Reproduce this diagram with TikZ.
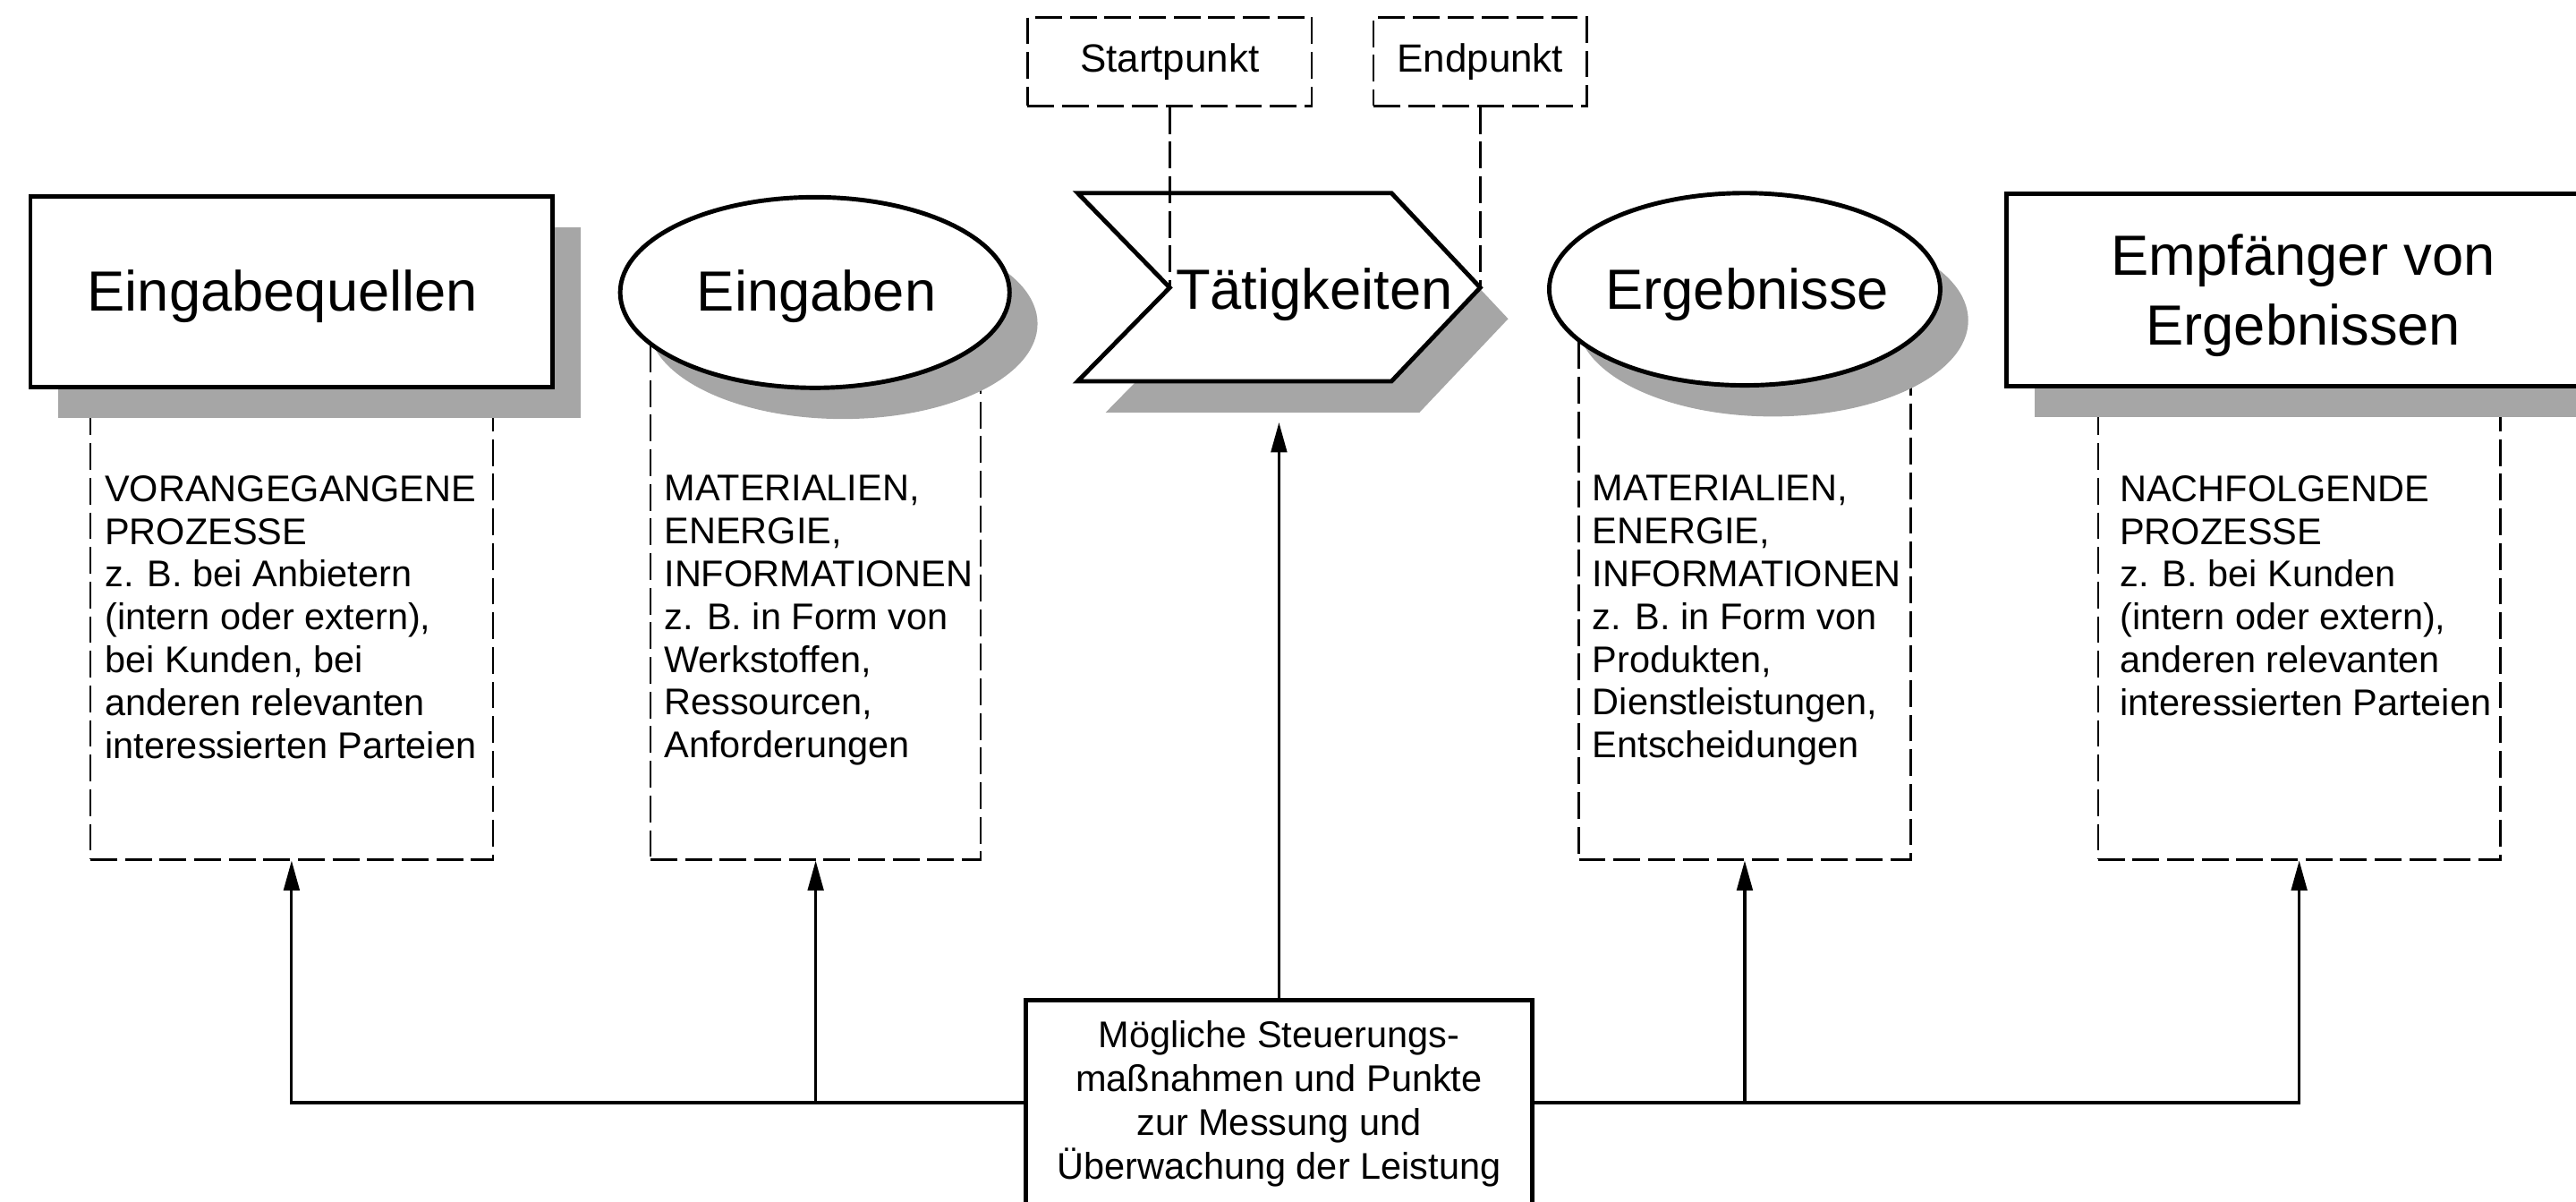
\documentclass[tikz,border=0pt]{standalone}
\usepackage{fontspec}
\setmainfont{Liberation Sans}
\usetikzlibrary{arrows.meta,shapes.geometric,shadows}
\newlength{\mpx}\setlength{\mpx}{0.018361cm}
\definecolor{shadowgray}{RGB}{166,166,166}
\begin{document}
\begin{tikzpicture}[x=0.018361cm,y=-0.018361cm,
  thickline/.style={line width=1.4pt},
  shapebox/.style={draw, thickline, fill=white, rectangle, inner sep=0pt},
  shapeell/.style={draw, thickline, fill=white, ellipse, inner sep=0pt},
  shadowed/.style={drop shadow={shadow xshift=8.9pt, shadow yshift=-9.9pt, opacity=1, fill=shadowgray}},
  dbox/.style={draw, line width=0.7pt, dash pattern=on 8.5pt off 2.5pt, rectangle, inner sep=0pt},
  titletxt/.style={font=\fontsize{18}{22}\selectfont, inner sep=0pt, align=center},
  bodytxt/.style={font=\fontsize{11.8}{13.6}\selectfont, inner sep=0pt, align=left, anchor=north west},
  conn/.style={line width=0.9pt, -{Triangle[length=9.5pt,width=5pt]}},
  dconn/.style={line width=0.7pt, dash pattern=on 8.5pt off 2.5pt}
]
\useasboundingbox (0,0) rectangle (1568,731);
\clip (0,0) rectangle (1568,731);

% dashed detail boxes (tops hidden behind the shapes)
\node[dbox, minimum width=245*\mpx, minimum height=345*\mpx] (b1) at (177.5,350.5) {};
\node[dbox, minimum width=201*\mpx, minimum height=345*\mpx] (b2) at (496.5,350.5) {};
\node[dbox, minimum width=202*\mpx, minimum height=345*\mpx] (b3) at (1062,350.5) {};
\node[dbox, minimum width=245*\mpx, minimum height=345*\mpx] (b4) at (1399.5,350.5) {};

\node[bodytxt] (b1T) at (63.5,289) {VORANGEGANGENE\\PROZESSE\\z. B. bei Anbietern\\(intern oder extern),\\bei Kunden, bei\\anderen relevanten\\interessierten Parteien};
\node[bodytxt] (b2T) at (404,289) {MATERIALIEN,\\ENERGIE,\\INFORMATIONEN\\z. B. in Form von\\Werkstoffen,\\Ressourcen,\\Anforderungen};
\node[bodytxt] (b3T) at (969,289) {MATERIALIEN,\\ENERGIE,\\INFORMATIONEN\\z. B. in Form von\\Produkten,\\Dienstleistungen,\\Entscheidungen};
\node[bodytxt] (b4T) at (1290,289) {NACHFOLGENDE\\PROZESSE\\z. B. bei Kunden\\(intern oder extern),\\anderen relevanten\\interessierten Parteien};

% main shapes
\node[shapebox, shadowed, minimum width=318*\mpx, minimum height=116*\mpx] (quellen) at (177.5,177.5) {};
\node[shapeell, shadowed, minimum width=237*\mpx, minimum height=116*\mpx] (eingaben) at (496,178) {};
\node[shapeell, shadowed, minimum width=238*\mpx, minimum height=117*\mpx] (ergebnisse) at (1062,176) {};
\node[shapebox, shadowed, minimum width=362*\mpx, minimum height=117*\mpx] (empf) at (1402.5,176.5) {};

% chevron (Taetigkeiten)
\fill[shadowgray, shift={(17,19)}] (656,117.5) -- (847,117.5) -- (901,175) -- (847,232) -- (656,232) -- (712,175) -- cycle;
\draw[thickline, fill=white] (656,117.5) -- (847,117.5) -- (901,175) -- (847,232) -- (656,232) -- (712,175) -- cycle;
\coordinate (tnotch) at (712,175);
\coordinate (ttip) at (901,175);
\coordinate (tatarrow) at (778.5,257);

% titles
\node[titletxt, anchor=base] (quellenT) at (172,189) {Eingabequellen};
\node[titletxt, anchor=base] (eingabenT) at (497,189) {Eingaben};
\node[titletxt, anchor=base] (taetT) at (800,188) {Tätigkeiten};
\node[titletxt, anchor=base] (ergebT) at (1063.5,188) {Ergebnisse};
\node[titletxt, anchor=north] (empfT) at (1402,142.3) {Empfänger von\\Ergebnissen};

% start / end points
\node[dbox, minimum width=173*\mpx, minimum height=54*\mpx, font=\fontsize{12.5}{15}\selectfont] (startp) at (712,37.5) {Startpunkt};
\node[dbox, minimum width=130*\mpx, minimum height=54*\mpx, font=\fontsize{12.5}{15}\selectfont] (endp) at (901,37.5) {Endpunkt};
\draw[dconn] (startp.south) -- (tnotch);
\draw[dconn] (endp.south) -- (ttip);

% control box and connectors
\node[shapebox, minimum width=308*\mpx, minimum height=152*\mpx] (ctrl) at (778.5,684.5) {};
\node[bodytxt, anchor=north, align=center, font=\fontsize{11.8}{13.9}\selectfont] (ctrlT) at (778.5,620.8) {Mögliche Steuerungs-\\maßnahmen und Punkte\\zur Messung und\\Überwachung der Leistung};

\coordinate (hy) at (0,671);
\draw[conn] (ctrl.north) -- (tatarrow);
\draw[conn] (ctrl.west |- hy) -| (b1.south);
\draw[conn] (ctrl.west |- hy) -| (b2.south);
\draw[conn] (ctrl.east |- hy) -| (b3.south);
\draw[conn] (ctrl.east |- hy) -| (b4.south);
\end{tikzpicture}
\end{document}
